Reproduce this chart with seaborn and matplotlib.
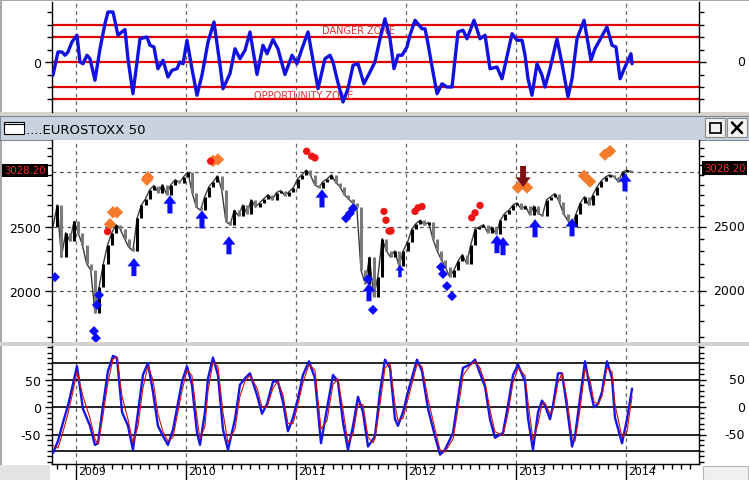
import numpy as np
import pandas as pd
import matplotlib
matplotlib.use("Agg")
import matplotlib.pyplot as plt
import seaborn as sns
from matplotlib.path import Path
from matplotlib.patches import Rectangle
from matplotlib.lines import Line2D
from matplotlib.ticker import FixedLocator, NullFormatter, FuncFormatter

sns.set_theme(style="white")
plt.rcParams['font.family'] = ['DejaVu Sans']

# ---------------- data ----------------
years = [2009, 2010, 2011, 2012, 2013, 2014]
title_text = "....EUROSTOXX 50"

# top oscillator (danger / opportunity zones)
osc_t = [2008.794, 2008.839, 2008.876, 2008.903, 2008.930, 2008.966, 2009.012, 2009.039, 2009.066, 2009.103,
         2009.130, 2009.175, 2009.221, 2009.266, 2009.293, 2009.339, 2009.384, 2009.448, 2009.475, 2009.520,
         2009.584, 2009.647, 2009.675, 2009.711, 2009.747, 2009.793, 2009.838, 2009.875, 2009.920, 2009.947,
         2009.975, 2010.011, 2010.056, 2010.102, 2010.147, 2010.202, 2010.256, 2010.311, 2010.338, 2010.401,
         2010.447, 2010.492, 2010.538, 2010.583, 2010.647, 2010.701, 2010.738, 2010.792, 2010.837, 2010.901,
         2010.965, 2011.010, 2011.055, 2011.110, 2011.201, 2011.264, 2011.310, 2011.337, 2011.373, 2011.428,
         2011.473, 2011.519, 2011.564, 2011.618, 2011.673, 2011.718, 2011.764, 2011.809, 2011.855, 2011.891,
         2011.927, 2011.964, 2012.009, 2012.036, 2012.082, 2012.145, 2012.173, 2012.200, 2012.245, 2012.282,
         2012.327, 2012.372, 2012.418, 2012.472, 2012.518, 2012.554, 2012.618, 2012.672, 2012.718, 2012.763,
         2012.826, 2012.872, 2012.963, 2013.008, 2013.054, 2013.081, 2013.108, 2013.144, 2013.190, 2013.235,
         2013.262, 2013.308, 2013.371, 2013.417, 2013.471, 2013.508, 2013.553, 2013.617, 2013.680, 2013.716,
         2013.825, 2013.871, 2013.907, 2013.944, 2013.989, 2014.043, 2014.053]
osc_v = [-0.53, 0.4, 0.4, 0.27, 0.4, 0.8, 1.07, 0.0, -0.07, 0.27,
         0.13, -0.73, 0.53, 1.53, 2.0, 2.0, 1.07, 1.3, 0.13, -1.27,
         0.93, 1.0, 0.67, 0.6, -0.27, 0.07, -0.6, -0.33, -0.27, 0.0,
         -0.07, 0.87, -0.27, -1.33, -0.53, 0.8, 1.6, -0.13, -1.07, -0.47,
         0.53, 0.13, 0.47, 1.2, -0.5, 0.67, 0.33, 0.9, 0.53, -0.5,
         0.27, -0.07, 0.53, 1.2, -1.07, 0.13, 0.27, 0.0, -0.67, -1.6,
         -1.07, -0.13, -0.07, -0.87, -0.4, 0.0, 0.93, 1.73, 0.93, -0.27,
         0.27, 0.27, 0.6, 1.07, 1.67, 1.33, 1.33, 0.73, -0.4, -1.27,
         -0.87, -1.0, -1.0, 1.2, 1.27, 0.93, 1.67, 0.93, 1.07, -0.27,
         -0.2, -0.67, 1.13, 0.87, 0.87, 0.27, -0.67, -1.33, -0.07, -0.53,
         -1.0, -0.27, 0.93, -0.07, -1.4, -0.67, 0.93, 1.67, 0.07, 0.53,
         1.4, 0.67, 0.6, -0.67, -0.2, 0.33, -0.07]
zone_levels = [1.5, 1.0, 0.0, -1.0, -1.5]
danger_label = ("DANGER ZONE", 2011.237, 1.26)
opportunity_label = ("OPPORTUNITY ZONE", 2010.619, -1.34)

# price (bi-weekly closes)
price_start = "2008-10-17"
price_close = [2500, 2700, 2250, 2450, 2380, 2550, 2450, 2350, 2200, 2150,
               1850, 2030, 2200, 2350, 2450, 2520, 2480, 2400, 2330, 2300,
               2580, 2700, 2760, 2850, 2890, 2820, 2900, 2800, 2900, 2950,
               2920, 2980, 3030, 2820, 2680, 2650, 2780, 2880, 2930, 2990,
               2850, 2550, 2520, 2650, 2600, 2700, 2620, 2750, 2680, 2720,
               2760, 2800, 2750, 2820, 2840, 2790, 2830, 2870, 2960, 3000,
               3050, 3000, 2900, 2870, 2930, 2960, 3000, 2920, 2880, 2800,
               2760, 2720, 2680, 2150, 2050, 2250, 1960, 2100, 2400, 2300,
               2250, 2300, 2180, 2300, 2370, 2480, 2530, 2560, 2520, 2540,
               2400, 2300, 2230, 2170, 2100, 2150, 2220, 2270, 2200, 2350,
               2480, 2500, 2520, 2450, 2500, 2440, 2560, 2620, 2650, 2700,
               2720, 2660, 2690, 2610, 2690, 2620, 2600, 2750, 2780, 2810,
               2730, 2620, 2560, 2500, 2620, 2720, 2780, 2700, 2800, 2880,
               2940, 2980, 3000, 2980, 2930, 3030, 3050, 3028.20]
price_ticks = [2000, 2500]

# signal markers on the price panel
buy_arrow_t = [2009.529, 2009.856, 2010.147, 2010.392, 2011.237, 2011.664, 2012.826, 2012.881, 2013.172, 2013.508, 2013.989]
buy_arrow_p = [2173, 2705, 2567, 2345, 2763, 1990, 2354, 2338, 2489, 2497, 2922]
small_arrow_t = [2011.945]
small_arrow_p = [2143]
sell_arrow_t = [2013.063]
sell_arrow_p = [2983]
blue_diamond_t = [2008.812, 2009.212, 2009.193, 2009.166, 2009.184, 2011.455, 2011.491, 2011.519,
                  2011.655, 2011.700, 2012.318, 2012.336, 2012.372, 2012.418]
blue_diamond_p = [2098, 1970, 1903, 1737, 1695, 2577, 2622, 2668, 2083, 1871, 2173, 2121, 2033, 1963]
orange_t = [2009.312, 2009.339, 2009.375, 2009.647, 2009.656, 2010.247, 2010.292, 2013.017, 2013.099,
            2013.617, 2013.671, 2013.807, 2013.853]
orange_p = [2524, 2632, 2632, 2950, 2974, 3150, 3166, 2870, 2870, 2990, 2930, 3220, 3260]
red_dot_t = [2009.290, 2010.226, 2011.098, 2011.143, 2011.173, 2011.800, 2011.818, 2011.846, 2011.864,
             2012.082, 2012.109, 2012.145, 2012.597, 2012.627, 2012.672]
red_dot_p = [2460, 3147, 3258, 3203, 3184, 2640, 2560, 2465, 2465, 2640, 2673, 2685, 2582, 2627, 2696]

# bottom oscillator
stoch_t = [2008.794, 2008.839, 2008.885, 2008.930, 2008.966, 2009.012, 2009.066, 2009.130, 2009.175, 2009.203,
           2009.248, 2009.293, 2009.339, 2009.375, 2009.421, 2009.475, 2009.520, 2009.566, 2009.611, 2009.656,
           2009.702, 2009.747, 2009.793, 2009.838, 2009.884, 2009.966, 2010.011, 2010.056, 2010.102, 2010.129,
           2010.174, 2010.202, 2010.247, 2010.292, 2010.338, 2010.383, 2010.447, 2010.492, 2010.538, 2010.583,
           2010.647, 2010.692, 2010.738, 2010.792, 2010.837, 2010.883, 2010.928, 2010.974, 2011.019, 2011.064,
           2011.119, 2011.173, 2011.228, 2011.282, 2011.337, 2011.382, 2011.428, 2011.473, 2011.519, 2011.564,
           2011.609, 2011.655, 2011.700, 2011.718, 2011.764, 2011.809, 2011.855, 2011.900, 2011.927, 2011.973,
           2012.018, 2012.100, 2012.145, 2012.200, 2012.263, 2012.309, 2012.354, 2012.427, 2012.491, 2012.518,
           2012.581, 2012.627, 2012.672, 2012.718, 2012.763, 2012.808, 2012.881, 2012.926, 2012.972, 2013.017,
           2013.081, 2013.108, 2013.153, 2013.199, 2013.235, 2013.262, 2013.308, 2013.335, 2013.381, 2013.417,
           2013.462, 2013.508, 2013.535, 2013.580, 2013.626, 2013.671, 2013.707, 2013.744, 2013.780, 2013.825,
           2013.871, 2013.898, 2013.962, 2014.007, 2014.053]
stoch_main = [-84, -62, -28, 3, 34, 75, -3, -34, -69, -66,
              3, 66, 94, 90, -9, -34, -78, -9, 59, 81,
              28, -34, -53, -69, -41, 47, 75, 41, -47, -69,
              -9, 53, 91, 59, -41, -78, -22, 41, 53, 62,
              22, -12, 6, 47, 47, 9, -44, -19, 16, 59,
              84, 53, -66, -3, 59, 47, -28, -78, -34, 19,
              -9, -72, -59, -53, 28, 87, 72, -22, -34, -9,
              28, 87, 66, -3, -53, -87, -78, -47, 41, 72,
              78, 87, 62, 37, -22, -56, -47, 3, 59, 78,
              47, -20, -78, -9, 12, 3, -22, 3, 62, 62,
              0, -72, -53, 16, 84, 34, 0, 6, 28, 84,
              53, -19, -66, -22, 34]
stoch_signal = [-70, -75, -45, -12, 20, 65, 20, -20, -58, -68,
                -15, 45, 88, 92, 20, -22, -65, -35, 35, 75,
                50, -12, -45, -62, -55, 30, 68, 58, -20, -58,
                -35, 30, 82, 75, -10, -65, -40, 20, 48, 58,
                35, 0, 0, 35, 47, 22, -30, -30, 5, 45,
                78, 68, -40, -25, 42, 52, -5, -65, -50, 5,
                5, -55, -65, -58, 5, 72, 80, 5, -25, -20,
                15, 78, 75, 15, -40, -78, -82, -58, 20, 58,
                76, 84, 72, 45, -5, -45, -52, -12, 45, 72,
                58, 10, -60, -30, 5, 8, -12, -5, 45, 62,
                15, -55, -62, -5, 70, 50, 10, 5, 20, 72,
                65, 5, -55, -45, 20]
stoch_levels = [80, 50, 0, -50, -80]
stoch_ticks = [-50, 0, 50]

# ---------------- figure ----------------
W, H = 749, 481
fig = plt.figure(figsize=(W / 100, H / 100), dpi=100)
fig.patch.set_facecolor('white')


def fr(x0, y0, x1, y1):
    return (x0 / W, 1 - y1 / H, (x1 - x0) / W, (y1 - y0) / H)


def frect(x0, y0, x1, y1, fc, ec='none', lw=0.0, z=-1):
    l, b, w, h = fr(x0, y0, x1, y1)
    fig.add_artist(Rectangle((l, b), w, h, transform=fig.transFigure, facecolor=fc,
                             edgecolor=ec, linewidth=lw, zorder=z))


def fline(x0, y0, x1, y1, **kw):
    fig.add_artist(Line2D([x0 / W, x1 / W], [1 - y0 / H, 1 - y1 / H], transform=fig.transFigure, **kw))


# window chrome
frect(0, 0, W, 2, '#a8a8a8')
frect(0, 0, 2, 466, '#a8a8a8')
frect(0, 113, W, 117, '#d6d3ce')
frect(0, 117, W, 140.5, '#c8d3df', ec='#7d8893', lw=0.8)
frect(0, 343, W, 347, '#d6d3ce')
frect(0, 466, 50, H, '#e3e3e3')
frect(703, 467, 748, H, '#f0f0f0', ec='#b5b5b5', lw=0.8)
frect(4, 123, 24, 135, 'white', ec='black', lw=0.8, z=2)
fline(4, 125, 24, 125, color='black', lw=0.8, zorder=3)
frect(705, 119, 725, 138, '#f4f4f4', ec='#8a8a8a', lw=0.8, z=2)
frect(727, 119, 747, 138, '#f4f4f4', ec='#8a8a8a', lw=0.8, z=2)
frect(709.5, 124, 720.5, 133.5, 'none', ec='black', lw=1.2, z=3)
fline(732, 123.5, 742, 134, color='black', lw=1.8, zorder=3)
fline(732, 134, 742, 123.5, color='black', lw=1.8, zorder=3)
fig.text(26 / W, 1 - 130 / H, title_text, fontsize=9.5, ha='left', va='center', color='black')

XL = (2008.785, 2014.661)
ax_top = fig.add_axes(fr(52, 3, 699, 113))
ax_mid = fig.add_axes(fr(52, 140.5, 699, 343))
ax_bot = fig.add_axes(fr(52, 347, 699, 465))

RIGHT_LABEL_X = (745 - 52) / (699 - 52)


def style(ax):
    ax.set_xlim(*XL)
    ax.set_facecolor('white')
    for s in ['top', 'bottom']:
        ax.spines[s].set_visible(False)
    for s in ['left', 'right']:
        ax.spines[s].set_visible(True)
        ax.spines[s].set_color('black')
        ax.spines[s].set_linewidth(1.0)
    ax.grid(False)
    ax.tick_params(axis='y', which='both', direction='out', left=True, right=True,
                   labelleft=True, labelright=False, colors='black', labelsize=9, pad=3)
    ax.tick_params(axis='y', which='major', length=5, width=1)
    ax.tick_params(axis='y', which='minor', length=3.5, width=1)
    ax.tick_params(axis='x', which='both', bottom=False, top=False, labelbottom=False)
    for yr in years:
        ax.axvline(yr, color='#666666', lw=0.9, ls=(0, (3, 3)), zorder=1)


def right_labels(ax, values, fmt):
    for v in values:
        ax.text(RIGHT_LABEL_X, v, fmt(v), transform=ax.get_yaxis_transform(),
                ha='right', va='center', fontsize=9, color='black', clip_on=False)


# ---- top oscillator ----
style(ax_top)
ax_top.set_ylim(-2.0, 2.4)
for lv in zone_levels:
    ax_top.axhline(lv, color='#e00000', lw=1.6, zorder=2)
ax_top.text(danger_label[1], danger_label[2], danger_label[0], color='#e03030', fontsize=7,
            ha='left', va='center', zorder=2)
ax_top.text(opportunity_label[1], opportunity_label[2], opportunity_label[0], color='#e03030',
            fontsize=7, ha='left', va='center', zorder=2)
sns.lineplot(x=osc_t, y=osc_v, ax=ax_top, color='#1212e0', linewidth=2.4,
             estimator=None, sort=False, legend=False, zorder=3)
ax_top.yaxis.set_major_locator(FixedLocator([0]))
ax_top.yaxis.set_major_formatter(FuncFormatter(lambda v, p: f"{v:.0f}"))
ax_top.yaxis.set_minor_locator(FixedLocator([-1.5, -1.0, -0.5, 0.5, 1.0, 1.5, 2.0]))
ax_top.yaxis.set_minor_formatter(NullFormatter())
ax_top.set_xlabel('')
ax_top.set_ylabel('')
right_labels(ax_top, [0], lambda v: f"{v:.0f}")

# ---- price panel ----
style(ax_mid)
ax_mid.set_yscale('log')
ax_mid.set_ylim(1672, 3395)
ax_mid.yaxis.set_major_locator(FixedLocator(price_ticks))
ax_mid.yaxis.set_major_formatter(FuncFormatter(lambda v, p: f"{v:.0f}"))
ax_mid.yaxis.set_minor_locator(FixedLocator([v for v in range(1700, 3400, 100) if v not in price_ticks]))
ax_mid.yaxis.set_minor_formatter(NullFormatter())
last_price = price_close[-1]
for lv in price_ticks + [last_price]:
    ax_mid.axhline(lv, color='#555555', lw=0.9, ls=(0, (3, 3)), zorder=1)

dates = pd.date_range(price_start, periods=len(price_close), freq='14D')
price_t = np.asarray(dates.year + (dates.dayofyear - 1) / 365.25, dtype=float)
pc = np.asarray(price_close, dtype=float)
prev = np.concatenate([[pc[0]], pc[:-1]])
lo = np.minimum(prev, pc)
hi = np.maximum(prev, pc)
cols = ['#000000' if c >= p else '#7a7a7a' for c, p in zip(pc, prev)]
sns.lineplot(x=price_t, y=pc, ax=ax_mid, color='#3a3a3a', linewidth=1.0,
             estimator=None, sort=False, legend=False, zorder=2.5)
ax_mid.vlines(price_t, lo, hi, colors=cols, linewidth=2.2, zorder=3)
ax_mid.set_xlabel('')
ax_mid.set_ylabel('')

up_arrow = Path([(-0.14, -0.5), (0.14, -0.5), (0.14, 0.04), (0.36, 0.04), (0.0, 0.5),
                 (-0.36, 0.04), (-0.14, 0.04), (-0.14, -0.5)],
                [Path.MOVETO] + [Path.LINETO] * 6 + [Path.CLOSEPOLY])
down_arrow = Path([(x, -y) for x, y in up_arrow.vertices], up_arrow.codes)

ax_mid.scatter(orange_t, orange_p, marker='D', s=40, color='#f57a2c', edgecolors='none', zorder=4)
ax_mid.scatter(red_dot_t, red_dot_p, marker='o', s=28, color='#ee1515', edgecolors='none', zorder=4)
ax_mid.scatter(blue_diamond_t, blue_diamond_p, marker='D', s=26, color='#0a0aff', edgecolors='none', zorder=5)
ax_mid.scatter(buy_arrow_t, buy_arrow_p, marker=up_arrow, s=170, color='#0a0aff', edgecolors='none', zorder=5)
ax_mid.scatter(small_arrow_t, small_arrow_p, marker=up_arrow, s=80, color='#0a0aff', edgecolors='none', zorder=5)
ax_mid.scatter(sell_arrow_t, sell_arrow_p, marker=down_arrow, s=230, color='#7a1010', edgecolors='none', zorder=5)
right_labels(ax_mid, price_ticks, lambda v: f"{v:.0f}")

badge = dict(boxstyle='square,pad=0.18', fc='black', ec='none')
fig.text(25 / W, 1 - 171.5 / H, f"{last_price:.2f}", ha='center', va='center', color='#ff2a2a',
         fontsize=7.3, bbox=badge)
fig.text(724.5 / W, 1 - 169 / H, f"{last_price:.2f}", ha='center', va='center', color='#ff2a2a',
         fontsize=7.3, bbox=badge)

# ---- bottom oscillator ----
style(ax_bot)
ax_bot.set_ylim(-104, 112)
for lv in stoch_levels:
    ax_bot.axhline(lv, color='black', lw=1.2, zorder=2)
sns.lineplot(x=stoch_t, y=stoch_main, ax=ax_bot, color='#1515e6', linewidth=1.7,
             estimator=None, sort=False, legend=False, zorder=3)
sns.lineplot(x=stoch_t, y=stoch_signal, ax=ax_bot, color='#d01010', linewidth=0.8,
             estimator=None, sort=False, legend=False, zorder=4)
ax_bot.yaxis.set_major_locator(FixedLocator(stoch_ticks))
ax_bot.yaxis.set_major_formatter(FuncFormatter(lambda v, p: f"{v:.0f}"))
ax_bot.yaxis.set_minor_locator(FixedLocator([v for v in range(-100, 111, 10) if v not in stoch_ticks]))
ax_bot.yaxis.set_minor_formatter(NullFormatter())
ax_bot.set_xlabel('')
ax_bot.set_ylabel('')
right_labels(ax_bot, stoch_ticks, lambda v: f"{v:.0f}")

ax_bot.spines['bottom'].set_visible(True)
ax_bot.spines['bottom'].set_color('black')
ax_bot.spines['bottom'].set_linewidth(1.0)
month_ticks = [y + m / 12 for y in range(2008, 2015) for m in range(1, 12) if XL[0] < y + m / 12 < XL[1]]
ax_bot.xaxis.set_major_locator(FixedLocator(years))
ax_bot.xaxis.set_minor_locator(FixedLocator(month_ticks))
ax_bot.tick_params(axis='x', which='major', bottom=True, length=12, width=1, direction='out',
                   labelbottom=False, color='black')
ax_bot.tick_params(axis='x', which='minor', bottom=True, length=3.6, width=1, direction='out',
                   color='black')
for yr in years:
    ax_bot.annotate(str(yr), xy=(yr, 0), xycoords=('data', 'axes fraction'), xytext=(1.5, -1.5),
                    textcoords='offset points', ha='left', va='top', fontsize=7.8, color='black',
                    annotation_clip=False)

fig.savefig('out.png', dpi=100, facecolor='white')
